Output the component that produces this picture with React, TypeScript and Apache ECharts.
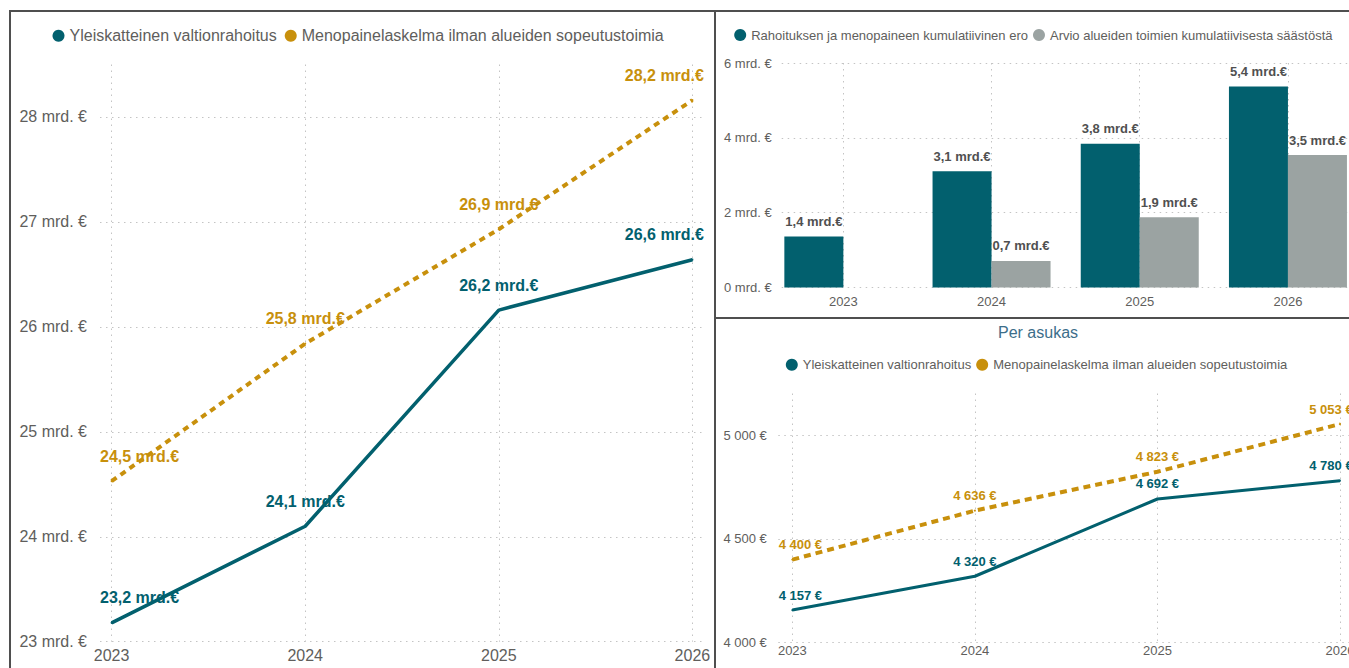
import React, { useEffect, useRef } from 'react';
import * as echarts from 'echarts';

// ---- data ----
const years = [2023, 2024, 2025, 2026];
const fundingBn = [23.18, 24.1, 26.16, 26.64];
const pressureBn = [24.53, 25.84, 26.93, 28.16];
const gapBn = [1.36, 3.11, 3.84, 5.37];
const savingsBn = [null, 0.71, 1.88, 3.54];
const fundingPerCapita = [4157, 4320, 4692, 4780];
const pressurePerCapita = [4400, 4636, 4823, 5053];
const bnTicks = [23, 24, 25, 26, 27, 28];
const barTicks = [0, 2, 4, 6];
const perCapitaTicks = [4000, 4500, 5000];

const nameFunding = 'Yleiskatteinen valtionrahoitus';
const namePressure = 'Menopainelaskelma ilman alueiden sopeutustoimia';
const nameGap = 'Rahoituksen ja menopaineen kumulatiivinen ero';
const nameSavings = 'Arvio alueiden toimien kumulatiivisesta säästöstä';
const perCapitaTitle = 'Per asukas';

// ---- style ----
const FONT = "'Liberation Sans', Arial, Helvetica, sans-serif";
const TEAL = '#02606E';
const GOLD = '#C8900C';
const GREY = '#9BA3A2';
const TXT = '#605E5C';
const GRIDLINE = { type: [1.5, 4.5], color: '#c4c4c4', width: 1 };
const BORDER = '#4f4f4f';

const fmtBn = (v: number) => v.toFixed(1).replace('.', ',') + ' mrd.€';
const fmtBnAxis = (v: number) => v + ' mrd. €';
const fmtEur = (v: number) =>
  Math.round(v).toString().replace(/\B(?=(\d{3})+(?!\d))/g, ' ') + ' €';

const lineData = (vals: number[], dx: number, dxEnd: number) =>
  vals.map((v, i) => ({
    value: [years[i], v],
    label: { offset: [i === 0 ? dx : i === vals.length - 1 ? -dxEnd : 0, 0] },
  }));

export default function App() {
  const ref = useRef<HTMLDivElement>(null);
  useEffect(() => {
    if (!ref.current) return;
    const chart = echarts.init(ref.current, undefined, { renderer: 'svg' });

    const legendBase = {
      orient: 'horizontal',
      icon: 'circle',
      itemWidth: 12,
      itemHeight: 12,
      padding: 0,
      selectedMode: false,
    };

    const valueXAxis = (gridIndex: number, min: number, max: number, size: number, margin: number) => ({
      gridIndex,
      type: 'value',
      min,
      max,
      axisLine: { show: false },
      axisTick: { show: false, customValues: years },
      axisLabel: {
        customValues: years,
        formatter: (v: number) => String(v),
        color: TXT,
        fontSize: size,
        fontFamily: FONT,
        margin,
      },
      splitLine: { show: true, lineStyle: GRIDLINE },
    });

    const valueYAxis = (gridIndex: number, min: number, max: number, ticks: number[], fmt: (v: number) => string, size: number, margin: number) => ({
      gridIndex,
      type: 'value',
      min,
      max,
      axisLine: { show: false },
      axisTick: { show: false, customValues: ticks },
      axisLabel: {
        customValues: ticks,
        formatter: fmt,
        color: TXT,
        fontSize: size,
        fontFamily: FONT,
        margin,
      },
      splitLine: { show: true, lineStyle: GRIDLINE },
    });

    const option: any = {
      animation: false,
      backgroundColor: '#ffffff',
      textStyle: { fontFamily: FONT },
      legend: [
        {
          ...legendBase,
          left: 52.5,
          top: 27.7,
          itemGap: 8,
          data: [nameFunding, namePressure],
          textStyle: { fontSize: 16, lineHeight: 16, color: TXT, fontFamily: FONT },
        },
        {
          ...legendBase,
          left: 734.2,
          top: 28.5,
          itemGap: 5,
          data: [nameGap, nameSavings],
          textStyle: { fontSize: 13, lineHeight: 13, color: TXT, fontFamily: FONT },
        },
        {
          ...legendBase,
          left: 785.8,
          top: 358.2,
          itemGap: 5,
          data: [nameFunding, namePressure],
          textStyle: { fontSize: 13, lineHeight: 13, color: TXT, fontFamily: FONT },
        },
      ],
      grid: [
        { left: 100, top: 64.5, width: 604, height: 577.2, outerBoundsMode: 'none' },
        { left: 781.7, top: 63, width: 567.9, height: 224.5, outerBoundsMode: 'none' },
        { left: 778.3, top: 393.5, width: 575.7, height: 249.2, outerBoundsMode: 'none' },
      ],
      xAxis: [
        valueXAxis(0, 2022.94, 2026.06, 16, 5.5),
        valueXAxis(1, 2022.584, 2026.416, 13, 7.5),
        valueXAxis(2, 2022.923, 2026.077, 13, 1.5),
      ],
      yAxis: [
        valueYAxis(0, 23, 28.5, bnTicks, fmtBnAxis, 16, 13),
        valueYAxis(1, 0, 6, barTicks, fmtBnAxis, 13, 10),
        valueYAxis(2, 4000, 5200, perCapitaTicks, fmtEur, 13, 11.5),
      ],
      series: [
        {
          name: nameFunding,
          type: 'line',
          xAxisIndex: 0,
          yAxisIndex: 0,
          data: lineData(fundingBn, 28, 28),
          symbol: 'circle',
          symbolSize: 2,
          itemStyle: { color: TEAL },
          lineStyle: { color: TEAL, width: 3.5 },
          label: {
            show: true,
            position: 'top',
            distance: 16,
            color: TEAL,
            fontSize: 16,
            fontWeight: 'bold',
            fontFamily: FONT,
            formatter: (p: any) => fmtBn(p.value[1]),
          },
        },
        {
          name: namePressure,
          type: 'line',
          xAxisIndex: 0,
          yAxisIndex: 0,
          data: lineData(pressureBn, 28, 28),
          symbol: 'circle',
          symbolSize: 2,
          itemStyle: { color: GOLD },
          lineStyle: { color: GOLD, width: 4, type: [6, 5] },
          label: {
            show: true,
            position: 'top',
            distance: 16,
            color: GOLD,
            fontSize: 16,
            fontWeight: 'bold',
            fontFamily: FONT,
            formatter: (p: any) => fmtBn(p.value[1]),
          },
        },
        {
          name: nameGap,
          type: 'bar',
          xAxisIndex: 1,
          yAxisIndex: 1,
          barWidth: 59,
          barGap: '0%',
          data: gapBn.map((v, i) => [years[i], v]),
          itemStyle: { color: TEAL },
          label: {
            show: true,
            position: 'top',
            distance: 8.5,
            color: '#505050',
            fontSize: 13,
            fontWeight: 'bold',
            fontFamily: FONT,
            formatter: (p: any) => fmtBn(p.value[1]),
          },
        },
        {
          name: nameSavings,
          type: 'bar',
          xAxisIndex: 1,
          yAxisIndex: 1,
          barWidth: 59,
          barGap: '0%',
          data: savingsBn
            .map((v, i) => (v == null ? null : [years[i], v]))
            .filter((d) => d !== null),
          itemStyle: { color: GREY },
          label: {
            show: true,
            position: 'top',
            distance: 8.5,
            color: '#505050',
            fontSize: 13,
            fontWeight: 'bold',
            fontFamily: FONT,
            formatter: (p: any) => fmtBn(p.value[1]),
          },
        },
        {
          name: nameFunding,
          type: 'line',
          xAxisIndex: 2,
          yAxisIndex: 2,
          data: lineData(fundingPerCapita, 8, 9),
          symbol: 'circle',
          symbolSize: 2,
          itemStyle: { color: TEAL },
          lineStyle: { color: TEAL, width: 3 },
          label: {
            show: true,
            position: 'top',
            distance: 7.5,
            color: TEAL,
            fontSize: 13,
            fontWeight: 'bold',
            fontFamily: FONT,
            formatter: (p: any) => fmtEur(p.value[1]),
          },
        },
        {
          name: namePressure,
          type: 'line',
          xAxisIndex: 2,
          yAxisIndex: 2,
          data: lineData(pressurePerCapita, 8, 9),
          symbol: 'circle',
          symbolSize: 2,
          itemStyle: { color: GOLD },
          lineStyle: { color: GOLD, width: 4, type: [7, 5] },
          label: {
            show: true,
            position: 'top',
            distance: 7.5,
            color: GOLD,
            fontSize: 13,
            fontWeight: 'bold',
            fontFamily: FONT,
            formatter: (p: any) => fmtEur(p.value[1]),
          },
        },
      ],
      graphic: [
        {
          type: 'rect',
          z: 100,
          shape: { x: 10, y: 11, width: 705, height: 700 },
          style: { fill: 'none', stroke: BORDER, lineWidth: 2 },
          silent: true,
        },
        {
          type: 'rect',
          z: 100,
          shape: { x: 715, y: 11, width: 700, height: 307 },
          style: { fill: 'none', stroke: BORDER, lineWidth: 2 },
          silent: true,
        },
        {
          type: 'rect',
          z: 100,
          shape: { x: 715, y: 318, width: 700, height: 400 },
          style: { fill: 'none', stroke: BORDER, lineWidth: 2 },
          silent: true,
        },
        {
          type: 'text',
          x: 1038,
          y: 332,
          style: {
            text: perCapitaTitle,
            fill: '#3C6E8A',
            fontSize: 16,
            fontFamily: FONT,
            align: 'center',
            verticalAlign: 'middle',
          },
        },
      ],
    };

    chart.setOption(option);
    return () => chart.dispose();
  }, []);

  return (
    <div
      ref={ref}
      style={{ position: 'fixed', left: 0, top: 0, width: 1349, height: 668, background: '#fff' }}
    />
  );
}
